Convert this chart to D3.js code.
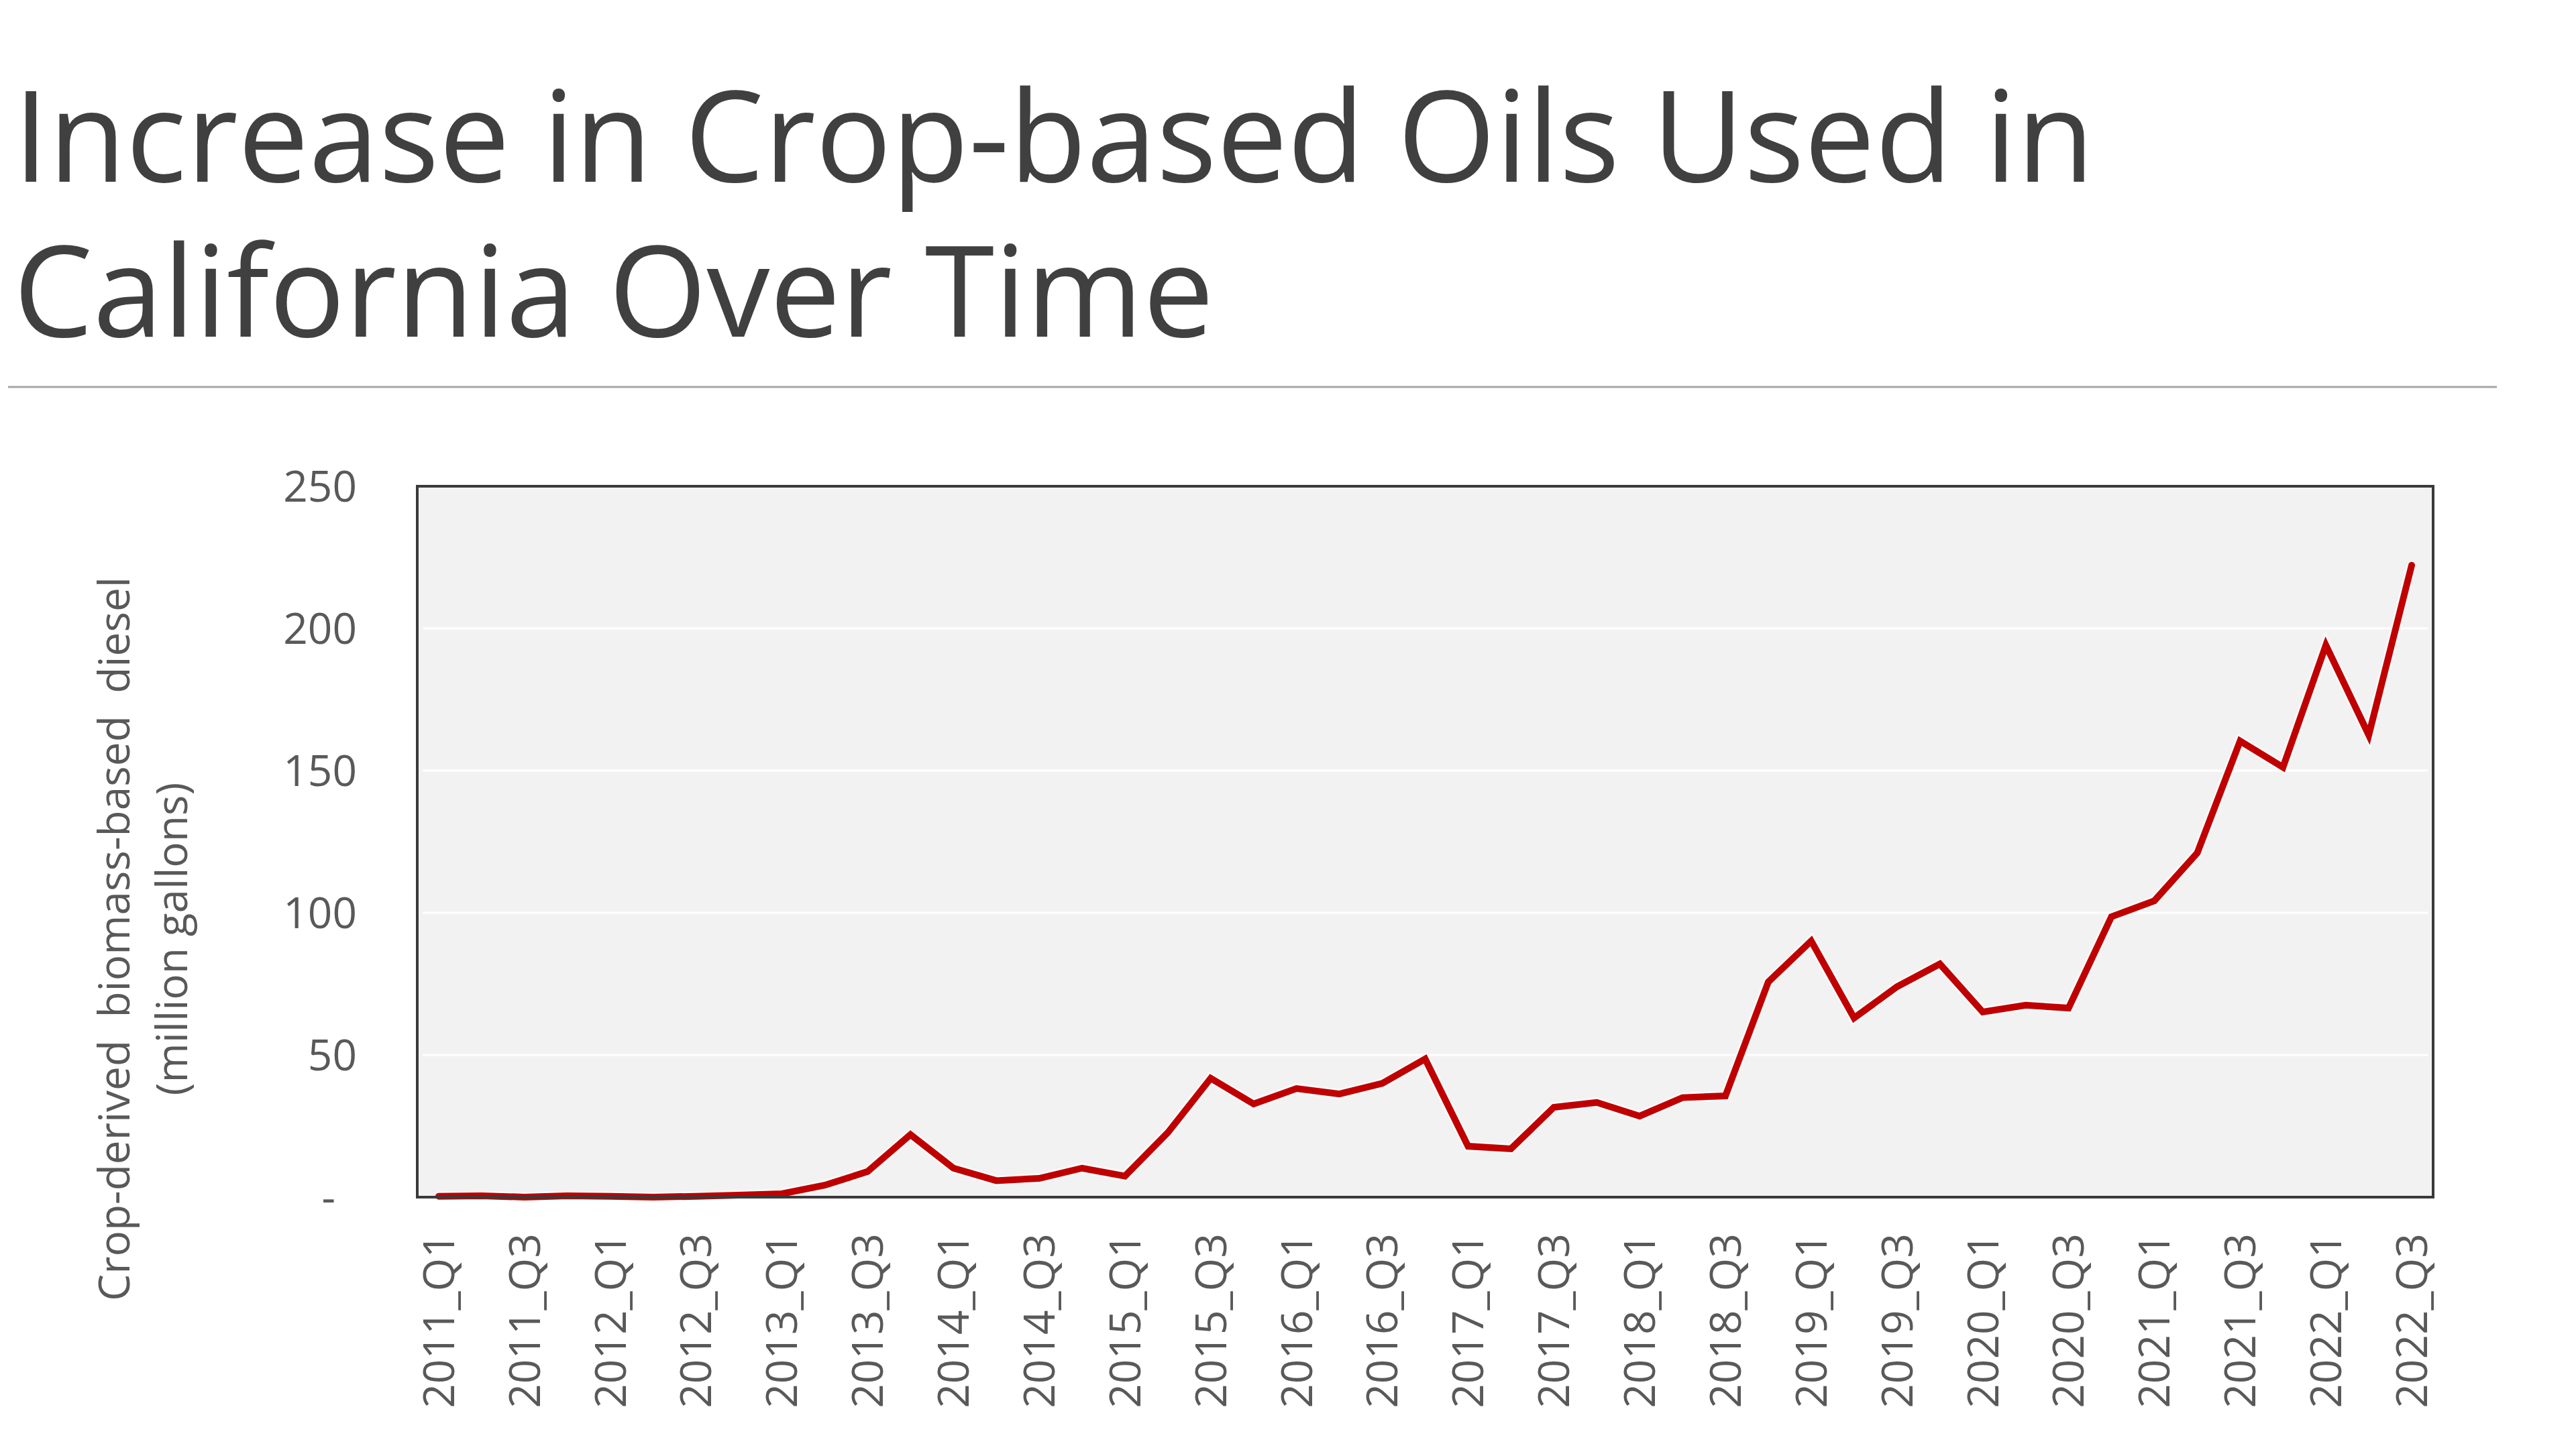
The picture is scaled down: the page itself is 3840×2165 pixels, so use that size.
<!DOCTYPE html>
<html>
<head>
<meta charset="utf-8">
<script src="https://cdn.jsdelivr.net/npm/d3@7"></script>
<style>
  html, body { margin: 0; padding: 0; background: #fff; }
  svg { display: block; font-family: "Open Sans", "Noto Sans", sans-serif; }
  .title { fill: #404040; font-weight: 400; }
  .axis text { fill: #595959; font-size: 64px; font-family: "Open Sans", sans-serif; }
  .axis path, .axis line { display: none; }
  .grid line { stroke: #ffffff; stroke-width: 3px; }
  .ytitle { fill: #595959; font-size: 64px; white-space: pre; }
</style>
</head>
<body>
<svg id="chart"></svg>
<script>
const titleLines = ["Increase in Crop-based Oils Used in", "California Over Time"];
const yTitleLines = ["Crop-derived  biomass-based  diesel", "(million gallons)"];

const quarters = [
  "2011_Q1","2011_Q2","2011_Q3","2011_Q4",
  "2012_Q1","2012_Q2","2012_Q3","2012_Q4",
  "2013_Q1","2013_Q2","2013_Q3","2013_Q4",
  "2014_Q1","2014_Q2","2014_Q3","2014_Q4",
  "2015_Q1","2015_Q2","2015_Q3","2015_Q4",
  "2016_Q1","2016_Q2","2016_Q3","2016_Q4",
  "2017_Q1","2017_Q2","2017_Q3","2017_Q4",
  "2018_Q1","2018_Q2","2018_Q3","2018_Q4",
  "2019_Q1","2019_Q2","2019_Q3","2019_Q4",
  "2020_Q1","2020_Q2","2020_Q3","2020_Q4",
  "2021_Q1","2021_Q2","2021_Q3","2021_Q4",
  "2022_Q1","2022_Q2","2022_Q3"
];

// million gallons
const values = [
  0.3, 0.5, 0, 0.5,
  0.3, 0, 0.3, 0.7,
  1.2, 4.2, 9, 22,
  10.2, 5.8, 6.6, 10.2,
  7.4, 22.7, 41.8, 32.8,
  38.2, 36.3, 40, 48.6,
  17.9, 17, 31.6, 33.3,
  28.5, 35, 35.6, 75.7,
  90.1, 63, 74, 82,
  65.1, 67.5, 66.5, 98.6,
  104.2, 121, 160.4, 151.2,
  194.1, 162.5, 222.2
];

const yTicks = [0, 50, 100, 150, 200, 250];
const xTickLabels = quarters.filter((d, i) => i % 2 === 0);

const W = 3840, H = 2165;
const PLOT = {left: 622, right: 3627, top: 725, bottom: 1785};

const svg = d3.select("#chart")
  .attr("width", W)
  .attr("height", H);

// title, two lines, fit first line to its width in the slide
const t1 = svg.append("text")
  .attr("class", "title")
  .attr("x", 20)
  .attr("y", 271)
  .style("font-size", "200px")
  .text(titleLines[0]);
const fs = 200 * 3102 / t1.node().getComputedTextLength();
t1.style("font-size", fs + "px");
svg.append("text")
  .attr("class", "title")
  .attr("x", 20)
  .attr("y", 502)
  .style("font-size", fs + "px")
  .text(titleLines[1]);

svg.append("line")
  .attr("x1", 12).attr("x2", 3722)
  .attr("y1", 577).attr("y2", 577)
  .style("stroke", "#a6a6a6")
  .style("stroke-width", "3px");

const x = d3.scalePoint()
  .domain(quarters)
  .range([PLOT.left, PLOT.right])
  .padding(0.5);

const y = d3.scaleLinear()
  .domain([0, 250])
  .range([PLOT.bottom, PLOT.top]);

// plot background
svg.append("rect")
  .attr("x", PLOT.left)
  .attr("y", PLOT.top)
  .attr("width", PLOT.right - PLOT.left)
  .attr("height", PLOT.bottom - PLOT.top)
  .style("fill", "#f2f2f2");

svg.append("g")
  .attr("class", "grid")
  .selectAll("line")
  .data(yTicks.filter(d => d > 0 && d < 250))
  .join("line")
  .attr("x1", PLOT.left + 8)
  .attr("x2", PLOT.right - 8)
  .attr("y1", d => y(d))
  .attr("y2", d => y(d));

// line with a faint light halo like the original
const line = d3.line()
  .x((d, i) => x(quarters[i]))
  .y(d => y(d))
  .curve(d3.curveLinear);

svg.append("path")
  .datum(values)
  .attr("d", line)
  .style("fill", "none")
  .style("stroke", "#f7fcfc")
  .style("stroke-width", "15px")
  .style("stroke-linejoin", "miter");

svg.append("path")
  .datum(values)
  .attr("d", line)
  .style("fill", "none")
  .style("stroke", "#c00000")
  .style("stroke-width", "10px")
  .style("stroke-linecap", "round")
  .style("stroke-linejoin", "miter");

// border on top
svg.append("rect")
  .attr("x", PLOT.left)
  .attr("y", PLOT.top)
  .attr("width", PLOT.right - PLOT.left)
  .attr("height", PLOT.bottom - PLOT.top)
  .style("fill", "none")
  .style("stroke", "#3a3a3a")
  .style("stroke-width", "4px");

svg.append("g")
  .attr("class", "y axis")
  .attr("transform", "translate(" + PLOT.left + ",0)")
  .call(d3.axisLeft(y)
    .tickValues(yTicks)
    .tickSize(0)
    .tickPadding(90)
    .tickFormat(d => d === 0 ? "-" : d))
  .selectAll("text")
    .attr("dy", "0.35em")
    .each(function(d){
      if (d === 0) d3.select(this).attr("x", -122);
    });

svg.append("g")
  .attr("class", "x axis")
  .attr("transform", "translate(0," + PLOT.bottom + ")")
  .call(d3.axisBottom(x).tickValues(xTickLabels).tickSize(0))
  .selectAll("text")
    .attr("transform", "rotate(-90)")
    .attr("text-anchor", "end")
    .attr("x", -54)
    .attr("y", 0)
    .attr("dy", "0.35em");

// y axis title, two rotated lines
[171, 257].forEach((cx, i) => {
  svg.append("text")
    .attr("class", "ytitle")
    .attr("text-anchor", "middle")
    .attr("transform", "translate(" + cx + ",1400) rotate(-90)")
    .attr("dy", "0.35em")
    .text(yTitleLines[i]);
});
</script>
</body>
</html>
